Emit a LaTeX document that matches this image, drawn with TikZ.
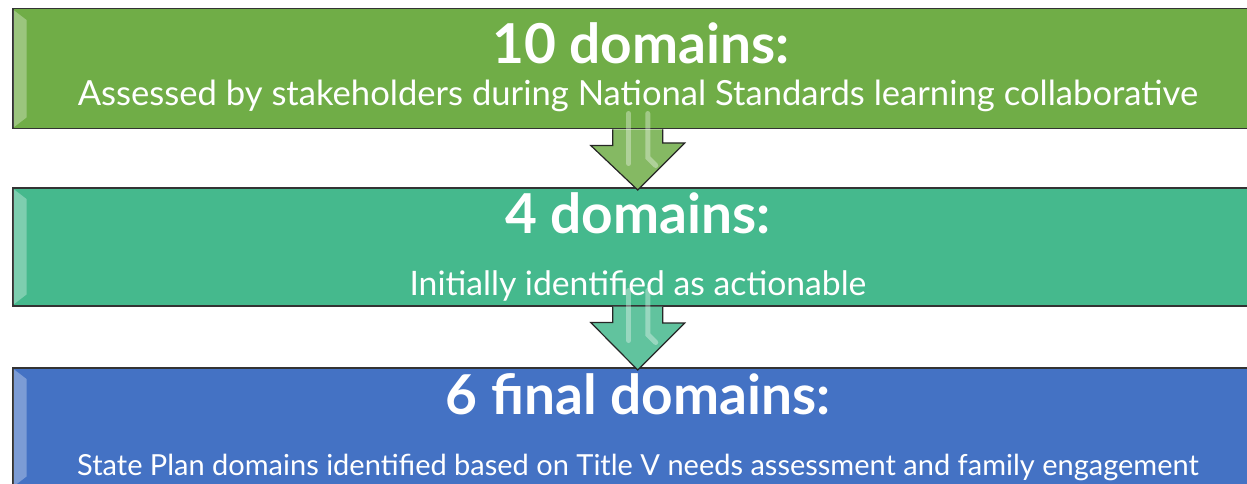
\documentclass[tikz,border=0pt]{standalone}
\usepackage{fontspec}
\setmainfont{Lato}
\definecolor{grnbox}{HTML}{70AD47}
\definecolor{tealbox}{HTML}{45B98D}
\definecolor{bluebox}{HTML}{4472C4}
\tikzset{
  stagebox/.style={draw=black!80, line width=1.5pt, minimum width=1250pt, minimum height=120pt, inner sep=0pt, anchor=north west},
  headtxt/.style={text=white, font=\bfseries\fontsize{55}{60}\selectfont, anchor=base, inner sep=0pt},
  subtxt/.style={text=white, font=\fontsize{#1}{40}\selectfont, anchor=base, inner sep=0pt},
  subtxt/.default=34,
  downarrow/.style={draw=black!85, line width=1.2pt, line join=miter},
  shine/.style={line width=5pt, line cap=round, white, opacity=.35},
}
\begin{document}
\begin{tikzpicture}[x=1pt, y=-1pt]
\useasboundingbox (0,0) rectangle (1247,484);
\clip (0,0) rectangle (1247,484);
% the three stages
\node[stagebox, fill=grnbox] (ten) at (12,8) {};
\node[stagebox, fill=tealbox, minimum height=118pt] (four) at (12,187) {};
\node[stagebox, fill=bluebox] (six) at (12,367) {};
% bevel on the left edges
\foreach \b in {ten,four,six}
  \fill[white, opacity=.3] (\b.north west) ++(1.5,2) -- ++(13,10) |- ([shift={(14.5,-12)}]\b.south west) -- ++(-13,10) -- cycle;
% block arrows
\foreach \from/\to/\col in {ten/four/grnbox, four/six/tealbox}{
  \draw[downarrow, fill=\col!85!white] ([xshift=-25pt]\from.south) -- ++(0,16) -- ++(-22,0)
    -- ([yshift=-3pt]\to.north) -- ++(47,-47) -- ++(-22,0) -- ([xshift=25pt]\from.south);
  \draw[shine] ([xshift=-9pt]\from.south) ++(0,-16) -- ++(0,50);
  \draw[shine] ([xshift=10pt]\from.south) ++(0,-16) -- ++(0,44) -- ++(8,8);
}
% texts
\node[headtxt] (tenhead) at (641,64) {10 domains:};
\node[subtxt=34.6] (tensub) at (638,106) {Assessed by stakeholders during National Standards learning collaborative};
\node[headtxt] (fourhead) at (638,233) {4 domains:};
\node[subtxt=33.7] (foursub) at (638,295) {Initially identified as actionable};
\node[headtxt] (sixhead) at (638,414) {6 final domains:};
\node[subtxt=29] (sixsub) at (638,475) {State Plan domains identified based on Title V needs assessment and family engagement};
\end{tikzpicture}
\end{document}
